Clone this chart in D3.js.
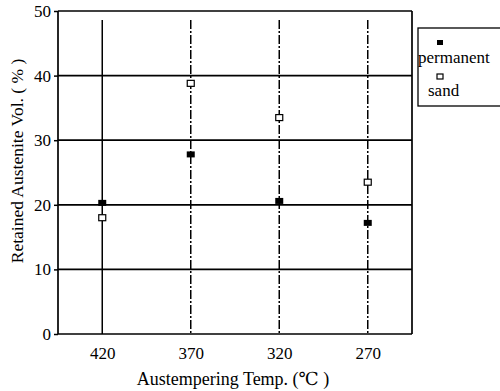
<!DOCTYPE html>
<html><head><meta charset="utf-8">
<script src="https://cdn.jsdelivr.net/npm/d3@7/dist/d3.min.js"></script>
<style>body{margin:0;background:#fff}svg{display:block}</style>
</head><body><div id="c"></div>
<script>
const categories = ["420", "370", "320", "270"];
const permanent = [20.3, 27.8, 20.6, 17.2];
const sand = [18.0, 38.8, 33.5, 23.5];
const yTicks = [0, 10, 20, 30, 40, 50];

const W = 500, H = 391;
const m = {l: 58, r: 88, t: 11, b: 57};
const svg = d3.select("#c").append("svg").attr("width", W).attr("height", H);
const font = "'Liberation Serif', 'DejaVu Serif', serif";

const x = d3.scalePoint().domain(categories).range([m.l, W - m.r]).padding(0.5);
const y = d3.scaleLinear().domain([0, 50]).range([H - m.b, m.t]);

// vertical lines at categories
categories.forEach((c, i) => {
  svg.append("line").attr("x1", x(c)).attr("x2", x(c))
    .attr("y1", y(48.6)).attr("y2", y(0))
    .attr("stroke", "#000").attr("stroke-width", 1.5)
    .attr("stroke-dasharray", i === 0 ? null : "9,2,2,2");
});

// horizontal grid
svg.append("g").selectAll("line").data(yTicks).join("line")
  .attr("x1", m.l).attr("x2", W - m.r)
  .attr("y1", d => y(d)).attr("y2", d => y(d))
  .attr("stroke", "#000").attr("stroke-width", 1.7);

// frame
svg.append("line").attr("x1", m.l).attr("x2", m.l).attr("y1", y(50)).attr("y2", y(0)).attr("stroke", "#000").attr("stroke-width", 1.7);
svg.append("line").attr("x1", W - m.r).attr("x2", W - m.r).attr("y1", y(50)).attr("y2", y(0)).attr("stroke", "#000").attr("stroke-width", 1.7);

// y axis
const ya = svg.append("g").attr("transform", `translate(${m.l},0)`)
  .call(d3.axisLeft(y).tickValues(yTicks).tickSize(4).tickPadding(3));
ya.select(".domain").remove();
ya.selectAll("line").attr("stroke-width", 1.5);
ya.selectAll("text").attr("font-family", font).attr("font-size", 17).attr("fill", "#000");

// x axis
const xa = svg.append("g").attr("transform", `translate(0,${y(0)})`)
  .call(d3.axisBottom(x).tickSize(0).tickPadding(13));
xa.select(".domain").remove();
xa.selectAll("text").attr("font-family", font).attr("font-size", 17).attr("fill", "#000");

// markers
svg.append("g").selectAll("rect").data(permanent).join("rect")
  .attr("x", (d, i) => x(categories[i]) - 4).attr("y", d => y(d) - 3)
  .attr("width", 8).attr("height", 6).attr("fill", "#000");
svg.append("g").selectAll("rect").data(sand).join("rect")
  .attr("x", (d, i) => x(categories[i]) - 3.5).attr("y", d => y(d) - 3)
  .attr("width", 7).attr("height", 6).attr("fill", "#fff").attr("stroke", "#000").attr("stroke-width", 1.2);

// axis titles
svg.append("text").attr("x", 233).attr("y", 385).attr("text-anchor", "middle")
  .attr("font-family", font).attr("font-size", 18).text("Austempering Temp. (℃ )");
svg.append("text").attr("transform", `translate(23,161) rotate(-90)`)
  .attr("text-anchor", "middle").attr("font-family", font).attr("font-size", 17.5)
  .text("Retained Austenite Vol. ( % )");

// legend
const lg = svg.append("g").attr("transform", "translate(418,28)");
lg.append("rect").attr("x", 0).attr("y", 0).attr("width", 90).attr("height", 78)
  .attr("fill", "#fff").attr("stroke", "#000").attr("stroke-width", 1.3);
lg.append("rect").attr("x", 19).attr("y", 12).attr("width", 6).attr("height", 5).attr("fill", "#000");
lg.append("text").attr("x", 0).attr("y", 35).attr("font-family", font).attr("font-size", 17).text("permanent");
lg.append("rect").attr("x", 19).attr("y", 46).attr("width", 6).attr("height", 5).attr("fill", "#fff").attr("stroke", "#000").attr("stroke-width", 1.2);
lg.append("text").attr("x", 10).attr("y", 68).attr("font-family", font).attr("font-size", 17).text("sand");
</script>
</body></html>
